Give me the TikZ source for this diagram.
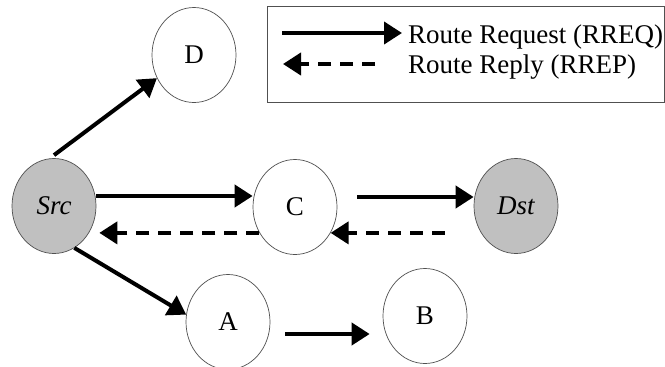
\documentclass[tikz,border=0pt]{standalone}
\usepackage{fontspec}
\setmainfont{Liberation Serif}
\usetikzlibrary{arrows.meta,shapes.geometric}

\definecolor{nodegray}{RGB}{192,192,192}
\definecolor{edgegray}{RGB}{80,80,80}

\tikzset{
  peer/.style={ellipse, draw=edgegray, line width=0.7pt, fill=white,
    minimum width=84pt, minimum height=95pt, inner sep=0pt,
    font=\fontsize{27}{31}\selectfont},
  endpoint/.style={peer, fill=nodegray, font=\fontsize{27}{31}\selectfont\itshape},
  bigtip/.style={-{Triangle[length=18pt,width=22pt]}},
  req/.style={bigtip, line width=4pt},
  rep/.style={bigtip, line width=4pt, dash pattern=on 13pt off 9pt},
  legendtext/.style={anchor=base west, inner sep=0pt,
    font=\fontsize{27}{31}\selectfont},
}

\begin{document}
\begin{tikzpicture}[x=1pt, y=-1pt]
  \useasboundingbox (0,0) rectangle (665,367);

  % nodes of the network
  \node[endpoint] (Src) at (54,206) {Src};
  \node[peer]     (D)   at (194,55) {D};
  \node[peer]     (C)   at (295,207) {C};
  \node[endpoint] (Dst) at (516,206) {Dst};
  \node[peer]     (A)   at (228,322) {A};
  \node[peer]     (B)   at (425,316) {B};

  % route requests
  \draw[req] ([yshift=3pt]Src.north) -- (D.212);
  \draw[req] ([yshift=10pt]Src.east) -- ([yshift=10pt]Src.east -| C.west);
  \coordinate (cd) at ([xshift=20pt,yshift=10pt]C.east);
  \draw[req] (cd) -- (cd -| Dst.west);
  \draw[req] (Src.-64) -- (A.170);
  \coordinate (ab) at ([xshift=15pt,yshift=-12pt]A.east);
  \draw[req] (ab) -- ([xshift=-13pt]B.west |- ab);

  % route replies
  \draw[rep] ([xshift=-29pt]Dst.west |- C.-36) -- (C.-36);
  \draw[rep] (C.216) -- ([xshift=3pt]Src.east |- C.216);

  % legend
  \node[draw=edgegray, line width=0.9pt, minimum width=397pt, minimum height=96pt,
        inner sep=0pt] (legend) at (465.5,54) {};
  \coordinate (l1s) at (282,33);
  \coordinate (l1e) at (402,33);
  \coordinate (l2s) at (375,64);
  \coordinate (l2e) at (283,64);
  \draw[req] (l1s) -- (l1e);
  \draw[rep] (l2s) -- (l2e);
  \node[legendtext] (reqlabel) at (408,43) {Route Request (RREQ)};
  \node[legendtext] (replabel) at (408,73) {Route Reply (RREP)};
\end{tikzpicture}
\end{document}
